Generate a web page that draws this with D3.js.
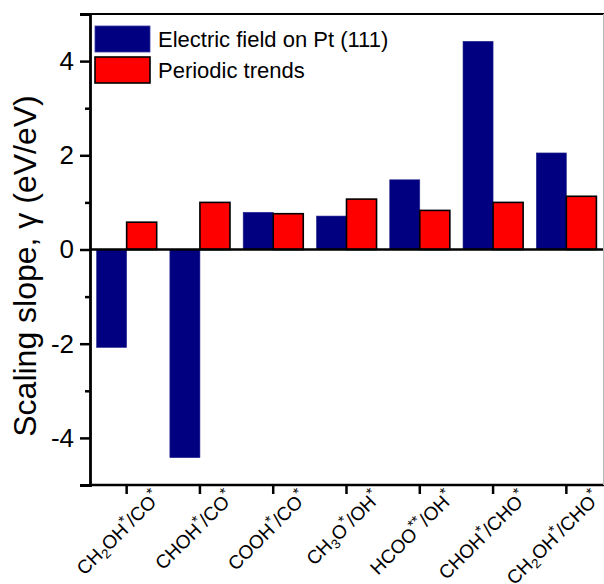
<!DOCTYPE html>
<html lang="en">
<head>
    <meta charset="UTF-8">
    <title>Scaling slopes</title>
    <script src="https://cdn.jsdelivr.net/npm/d3@7"></script>
    <style>
        body { margin: 0; background: #fff; }
        text { font-family: Arial, "Liberation Sans", sans-serif; }
    </style>
</head>
<body>
<script>
    // labels use _ for a one-character subscript and ^ for superscript asterisks
    var categories = ["CH_2OH^*/CO^*", "CHOH^*/CO^*", "COOH^*/CO^*", "CH_3O^*/OH^*",
        "HCOO^**/OH^*", "CHOH^*/CHO^*", "CH_2OH^*/CHO^*"];
    var seriesNames = ["Electric field on Pt (111)", "Periodic trends"];
    var electricField = [-2.08, -4.42, 0.79, 0.71, 1.48, 4.42, 2.05];
    var periodicTrends = [0.58, 1.0, 0.76, 1.07, 0.83, 1.0, 1.13];
    var majorTicks = [-4, -2, 0, 2, 4];
    var minorTicks = [-5, -3, -1, 1, 3, 5];

    var w = 604, h = 584;
    var plotL = 90, plotR = 603, plotT = 14, plotB = 485;
    var colors = ["#000080", "#ff0000"];

    var svg = d3.select("body").append("svg")
        .attr("width", w)
        .attr("height", h);

    var x0 = d3.scaleBand().domain(categories).range([plotL, plotR]);
    var bw = x0.bandwidth();
    var x1 = d3.scaleBand().domain(seriesNames).range([bw * 0.09, bw * 0.91]);
    var y = d3.scaleLinear().domain([-5, 5]).range([plotB, plotT]);

    var rows = categories.map(function (c, i) {
        return [
            {cat: c, s: seriesNames[0], v: electricField[i], k: 0},
            {cat: c, s: seriesNames[1], v: periodicTrends[i], k: 1}
        ];
    });

    // bars
    svg.append("g").selectAll("g")
        .data(rows).enter()
        .append("g")
        .attr("transform", function (d) { return "translate(" + x0(d[0].cat) + ",0)"; })
        .selectAll("rect")
        .data(function (d) { return d; }).enter()
        .append("rect")
        .attr("x", function (d) { return x1(d.s); })
        .attr("width", x1.bandwidth())
        .attr("y", function (d) { return y(Math.max(0, d.v)); })
        .attr("height", function (d) { return Math.abs(y(d.v) - y(0)); })
        .attr("fill", function (d) { return colors[d.k]; })
        .attr("stroke", function (d) { return d.k === 1 ? "#000" : "#2a2a90"; })
        .attr("stroke-width", function (d) { return d.k === 1 ? 1.6 : 0.6; });

    // zero line
    svg.append("line")
        .attr("x1", plotL).attr("x2", plotR)
        .attr("y1", y(0)).attr("y2", y(0))
        .attr("stroke", "#000").attr("stroke-width", 2.5);

    // frame
    svg.append("line").attr("x1", plotL - 1).attr("x2", w).attr("y1", plotT).attr("y2", plotT)
        .attr("stroke", "#000").attr("stroke-width", 2.2);
    svg.append("line").attr("x1", plotL - 1).attr("x2", w).attr("y1", plotB).attr("y2", plotB)
        .attr("stroke", "#000").attr("stroke-width", 2.5);
    svg.append("line").attr("x1", plotR + 0.5).attr("x2", plotR + 0.5).attr("y1", plotT).attr("y2", plotB)
        .attr("stroke", "#bbb").attr("stroke-width", 1);

    // y axis
    var yAxis = svg.append("g")
        .attr("transform", "translate(" + plotL + ",0)")
        .call(d3.axisLeft(y).tickValues(majorTicks).tickSize(10).tickPadding(6)
            .tickFormat(function (d) { return String(d); }));
    yAxis.select(".domain").attr("stroke-width", 2.8);
    yAxis.selectAll(".tick line").attr("stroke-width", 2.5);
    yAxis.selectAll(".tick text")
        .attr("font-size", 26)
        .attr("font-family", "Arial, 'Liberation Sans', sans-serif")
        .attr("fill", "#000");

    var yMinor = svg.append("g")
        .attr("transform", "translate(" + plotL + ",0)")
        .call(d3.axisLeft(y).tickValues(minorTicks).tickSize(5).tickFormat(""));
    yMinor.select(".domain").remove();
    yMinor.selectAll(".tick line").attr("stroke-width", 2.5);

    // x axis ticks
    var xAxis = svg.append("g")
        .attr("transform", "translate(0," + plotB + ")")
        .call(d3.axisBottom(x0).tickSize(9).tickFormat(""));
    xAxis.select(".domain").remove();
    xAxis.selectAll(".tick line").attr("stroke-width", 2.5);

    // x labels with sub/superscripts
    function addRich(textSel, label) {
        var i = 0, buf = "";
        function flush() {
            if (buf) { textSel.append("tspan").text(buf); buf = ""; }
        }
        while (i < label.length) {
            var ch = label[i];
            if (ch === "_") {
                flush();
                textSel.append("tspan").attr("font-size", "0.7em")
                    .attr("baseline-shift", "-30%").text(label[i + 1]);
                i += 2;
            } else if (ch === "^") {
                flush();
                var j = i + 1, s = "";
                while (label[j] === "*") { s += "*"; j++; }
                textSel.append("tspan").attr("font-size", "0.8em")
                    .attr("baseline-shift", "50%").text(s);
                i = j;
            } else {
                buf += ch; i++;
            }
        }
        flush();
    }

    svg.append("g").selectAll("text")
        .data(categories).enter()
        .append("text")
        .attr("font-size", 19)
        .attr("text-anchor", "end")
        .attr("transform", function (d) {
            var cx = x0(d) + bw / 2;
            return "translate(" + (cx + 35) + "," + (plotB + 14) + ") rotate(-45)";
        })
        .each(function (d) { addRich(d3.select(this), d); });

    // y title
    svg.append("text")
        .attr("transform", "translate(36," + 266 + ") rotate(-90)")
        .attr("text-anchor", "middle")
        .attr("font-size", 32)
        .text("Scaling slope, \u03b3 (eV/eV)");

    // legend
    var legend = svg.append("g").selectAll("g")
        .data(seriesNames).enter()
        .append("g")
        .attr("transform", function (d, i) { return "translate(95," + (26 + i * 31) + ")"; });
    legend.append("rect")
        .attr("width", 55).attr("height", 26)
        .attr("fill", function (d, i) { return colors[i]; })
        .attr("stroke", function (d, i) { return i === 1 ? "#000" : "#3a3aa0"; })
        .attr("stroke-width", function (d, i) { return i === 1 ? 1.6 : 0.8; });
    legend.append("text")
        .attr("x", 63).attr("y", 21)
        .attr("font-size", 22)
        .text(function (d) { return d; });
</script>
</body>
</html>
